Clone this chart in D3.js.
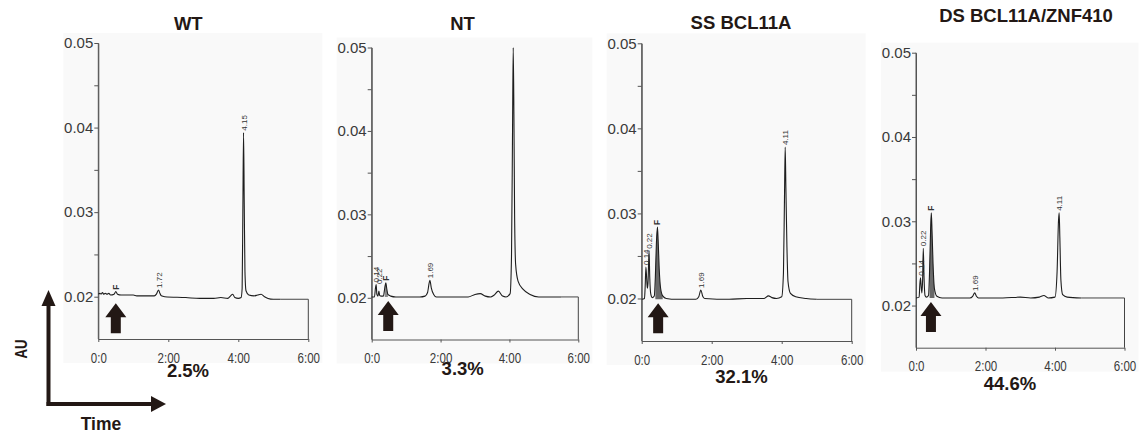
<!DOCTYPE html>
<html><head><meta charset="utf-8">
<script src="https://cdn.jsdelivr.net/npm/d3@7"></script>
<style>
body{margin:0;background:#fff;}
svg{display:block;font-family:"Liberation Sans",Arial,Helvetica,sans-serif;}
</style></head>
<body><svg id="c" width="1143" height="436"></svg>
<script>
// ---------------- DATA ----------------
const titles = ["WT", "NT", "SS BCL11A", "DS BCL11A/ZNF410"];
const percents = ["2.5%", "3.3%", "32.1%", "44.6%"];
const yTicks = [0.02, 0.03, 0.04, 0.05];
const yMinorTicks = [0.025, 0.035, 0.045];
const xTicks = [0, 2, 4, 6];
const xTickLabels = ["0:0", "2:00", "4:00", "6:00"];
const yDomain = [0.015, 0.05];
const xDomain = [0, 6];

// traces: [time (min), AU]
const wtTrace = [[0.00,0.0203],[0.05,0.0204],[0.08,0.0203],[0.12,0.0205],[0.15,0.0203],[0.20,0.0204],[0.25,0.0203],[0.30,0.0204],[0.35,0.0202],[0.45,0.0203],[0.50,0.0206],[0.55,0.0203],[0.65,0.0202],[1.00,0.0202],[1.10,0.0201],[1.40,0.0201],[1.60,0.0201],[1.66,0.0203],[1.72,0.0208],[1.76,0.0204],[1.80,0.0201],[1.90,0.0200],[2.50,0.0199],[2.90,0.0198],[3.30,0.0198],[3.50,0.0199],[3.70,0.0198],[3.78,0.0201],[3.84,0.0203],[3.90,0.0199],[4.00,0.0198],[4.08,0.0199],[4.11,0.0210],[4.13,0.0300],[4.15,0.0394],[4.17,0.0310],[4.19,0.0230],[4.22,0.0207],[4.30,0.0202],[4.45,0.0201],[4.55,0.0202],[4.65,0.0203],[4.75,0.0200],[4.85,0.0198],[5.00,0.0197],[5.20,0.0197]];
const ntTrace = [[0.00,0.0201],[0.08,0.0201],[0.11,0.0212],[0.13,0.0216],[0.15,0.0204],[0.18,0.0202],[0.21,0.0208],[0.23,0.0203],[0.28,0.0202],[0.34,0.0202],[0.38,0.0212],[0.41,0.0218],[0.44,0.0210],[0.47,0.0204],[0.55,0.0202],[0.70,0.0201],[1.40,0.0201],[1.55,0.0202],[1.62,0.0206],[1.69,0.0221],[1.73,0.0212],[1.80,0.0204],[1.88,0.0201],[2.80,0.0201],[3.00,0.0204],[3.15,0.0205],[3.30,0.0202],[3.45,0.0201],[3.55,0.0203],[3.68,0.0208],[3.80,0.0202],[3.90,0.0201],[4.02,0.0205],[4.06,0.0250],[4.09,0.0400],[4.11,0.0500],[4.13,0.0420],[4.15,0.0300],[4.18,0.0240],[4.25,0.0220],[4.40,0.0210],[4.60,0.0204],[4.85,0.0201],[5.50,0.0201]];
const ssTrace = [[0.00,0.0199],[0.08,0.0200],[0.10,0.0215],[0.12,0.0237],[0.14,0.0225],[0.16,0.0212],[0.18,0.0218],[0.21,0.0256],[0.23,0.0225],[0.26,0.0205],[0.30,0.0201],[0.36,0.0203],[0.39,0.0225],[0.42,0.0265],[0.45,0.0284],[0.47,0.0268],[0.50,0.0235],[0.54,0.0212],[0.60,0.0203],[0.70,0.0200],[1.00,0.0199],[1.55,0.0199],[1.63,0.0202],[1.69,0.0210],[1.74,0.0203],[1.80,0.0200],[2.50,0.0199],[3.00,0.0200],[3.20,0.0200],[3.50,0.0200],[3.62,0.0203],[3.72,0.0201],[3.85,0.0200],[4.00,0.0202],[4.05,0.0230],[4.08,0.0320],[4.10,0.0378],[4.12,0.0330],[4.15,0.0260],[4.18,0.0220],[4.25,0.0206],[4.40,0.0202],[4.70,0.0200],[5.00,0.0199]];
const dsTrace = [[0.00,0.0209],[0.09,0.0210],[0.11,0.0225],[0.13,0.0233],[0.15,0.0222],[0.17,0.0215],[0.19,0.0230],[0.21,0.0268],[0.23,0.0235],[0.26,0.0212],[0.30,0.0210],[0.36,0.0212],[0.39,0.0240],[0.42,0.0290],[0.44,0.0310],[0.46,0.0290],[0.49,0.0250],[0.53,0.0220],[0.60,0.0211],[0.75,0.0209],[1.55,0.0209],[1.63,0.0211],[1.69,0.0215],[1.74,0.0211],[1.80,0.0209],[2.50,0.0209],[3.00,0.0210],[3.30,0.0209],[3.55,0.0210],[3.68,0.0212],[3.80,0.0209],[4.00,0.0210],[4.06,0.0240],[4.10,0.0300],[4.12,0.0310],[4.14,0.0280],[4.17,0.0230],[4.22,0.0213],[4.35,0.0210],[4.75,0.0209]];

// peak labels: [time, AU at peak top, text]
const wtLabels = [[0.50,0.0206,"F"],[1.72,0.0208,"1.72"],[4.15,0.0394,"4.15"]];
const ntLabels = [[0.12,0.0216,"0.14"],[0.20,0.0214,"0.22"],[0.41,0.0218,"F"],[1.69,0.0221,"1.69"]];
const ssLabels = [[0.12,0.0237,"0.14"],[0.21,0.0256,"0.22"],[0.45,0.0284,"F"],[1.69,0.0210,"1.69"],[4.10,0.0378,"4.11"]];
const dsLabels = [[0.13,0.0233,"0.14"],[0.21,0.0268,"0.22"],[0.44,0.0310,"F"],[1.69,0.0215,"1.69"],[4.12,0.0310,"4.11"]];

const boxTopLevels = [0.0197, 0.0201, 0.0199, 0.0209];
const fShadeWindows = [null, [0.36,0.52], [0.37,0.60], [0.37,0.58]];
const arrowTimes = [0.50, 0.48, 0.47, 0.43];

// ---------------- LAYOUT ----------------
const traces = [wtTrace, ntTrace, ssTrace, dsTrace];
const labels = [wtLabels, ntLabels, ssLabels, dsLabels];
const frames = [
  {x0:98.3, x1:308.3, yb:339, yt:43, titleX:188.3, titleY:30, pctX:188, pctY:377},
  {x0:371.7, x1:578.3, yb:339.5, yt:47.5, titleX:462.5, titleY:30, pctX:462.7, pctY:375},
  {x0:641.7, x1:851.7, yb:341, yt:43.3, titleX:741, titleY:29, pctX:741.5, pctY:383},
  {x0:916, x1:1124.5, yb:347.7, yt:52.7, titleX:1026, titleY:22, pctX:1010, pctY:390}
];
const dark = "#231815";
const svg = d3.select("#c");

frames.forEach((f, i) => {
  const x = d3.scaleLinear().domain(xDomain).range([f.x0, f.x1]);
  const y = d3.scaleLinear().domain(yDomain).range([f.yb, f.yt]);
  const g = svg.append("g");

  // faint panel background
  g.append("rect").attr("x", f.x0 - 35).attr("y", f.yt - 10)
    .attr("width", f.x1 - f.x0 + 49).attr("height", f.yb - f.yt + 34)
    .attr("fill", "#f9f9f9");

  // title & percent
  svg.append("text").attr("x", f.titleX).attr("y", f.titleY).attr("text-anchor","middle")
    .attr("font-size", 18.5).attr("font-weight","bold").attr("fill", dark).text(titles[i]);
  svg.append("text").attr("x", f.pctX).attr("y", f.pctY).attr("text-anchor","middle")
    .attr("font-size", 18.5).attr("font-weight","bold").attr("fill", dark).text(percents[i]);

  // y axis
  const ya = g.append("g").attr("transform", `translate(${f.x0},0)`)
    .call(d3.axisLeft(y).tickValues(yTicks).tickFormat(d3.format(".2f")).tickSize(4).tickSizeOuter(0).tickPadding(1));
  const yam = g.append("g").attr("transform", `translate(${f.x0},0)`)
    .call(d3.axisLeft(y).tickValues(yMinorTicks).tickFormat("").tickSize(4).tickSizeOuter(0));
  yam.select(".domain").remove();
  // x axis
  const xa = g.append("g").attr("transform", `translate(0,${f.yb})`)
    .call(d3.axisBottom(x).tickValues(xTicks).tickFormat((d, k) => xTickLabels[k]).tickSize(3).tickSizeOuter(0).tickPadding(10));
  [ya, yam, xa].forEach(a => {
    a.selectAll("path,line").attr("stroke", "#555").attr("stroke-width", 1);
  });
  ya.selectAll("text").attr("font-size", 15).attr("fill", "#3a3a3a").attr("font-family", "Liberation Sans, Arial, sans-serif");
  xa.selectAll("text").attr("font-size", 15).attr("fill", "#3a3a3a").attr("font-family", "Liberation Sans, Arial, sans-serif")
    .attr("textLength", (d, k) => k === 0 ? 16 : 22.5).attr("lengthAdjust", "spacingAndGlyphs");
  // extend y axis line to the bottom axis
  g.append("line").attr("x1", f.x0).attr("x2", f.x0).attr("y1", y(yDomain[0])).attr("y2", y(0.05))
    .attr("stroke", "#555");

  const tr = traces[i];
  const lastT = tr[tr.length - 1][0];
  // baseline box
  g.append("path")
    .attr("d", `M${x(lastT)},${y(boxTopLevels[i])}L${x(6)},${y(boxTopLevels[i])}L${x(6)},${y(yDomain[0])}`)
    .attr("fill", "none").attr("stroke", "#444").attr("stroke-width", 1);

  // shaded F peak
  if (fShadeWindows[i]) {
    const w = fShadeWindows[i];
    const pts = tr.filter(d => d[0] >= w[0] && d[0] <= w[1]);
    const area = d3.area().x(d => x(d[0])).y0(y(boxTopLevels[i])).y1(d => y(d[1])).curve(d3.curveMonotoneX);
    g.append("path").attr("d", area(pts)).attr("fill", i === 1 ? "#8a8a8a" : "#6a6a6a");
  }

  // trace
  const line = d3.line().x(d => x(d[0])).y(d => y(d[1])).curve(d3.curveMonotoneX);
  g.append("path").attr("d", line(tr)).attr("fill", "none").attr("stroke", "#1e1e1e").attr("stroke-width", 1.1);

  // peak labels
  labels[i].forEach(l => {
    const px = x(l[0]), py = y(l[1]) - 2;
    g.append("text").attr("transform", `translate(${px + 3},${py}) rotate(-90)`)
      .attr("font-size", l[2] === "F" ? 8.5 : 8).attr("font-weight", l[2] === "F" ? "bold" : "normal")
      .attr("fill", "#333").text(l[2]);
  });

  // black up arrow marking F
  const cx = x(arrowTimes[i]);
  const tip = y(boxTopLevels[i]) + 4;
  const hw = 10.5, sw = 5, hh = 14, tot = 30;
  g.append("path")
    .attr("d", `M${cx},${tip}L${cx + hw},${tip + hh}L${cx + sw},${tip + hh}L${cx + sw},${tip + tot}L${cx - sw},${tip + tot}L${cx - sw},${tip + hh}L${cx - hw},${tip + hh}Z`)
    .attr("fill", dark);
});

// AU / Time key arrows
const k = svg.append("g");
k.append("line").attr("x1", 48.5).attr("x2", 48.5).attr("y1", 406).attr("y2", 302).attr("stroke", dark).attr("stroke-width", 4);
k.append("path").attr("d", "M48.5,290L55.5,306L41.5,306Z").attr("fill", dark);
k.append("line").attr("x1", 46.5).attr("x2", 154).attr("y1", 404).attr("y2", 404).attr("stroke", dark).attr("stroke-width", 4);
k.append("path").attr("d", "M166,404L151,396L151,412Z").attr("fill", dark);
k.append("text").attr("transform", "translate(26.5,349) rotate(-90)").attr("text-anchor", "middle")
  .attr("font-size", 16.5).attr("font-weight", "bold").attr("fill", dark)
  .attr("textLength", 19).attr("lengthAdjust", "spacingAndGlyphs").text("AU");
k.append("text").attr("x", 101).attr("y", 430).attr("text-anchor", "middle")
  .attr("font-size", 17.5).attr("font-weight", "bold").attr("fill", dark).text("Time");
</script></body></html>
